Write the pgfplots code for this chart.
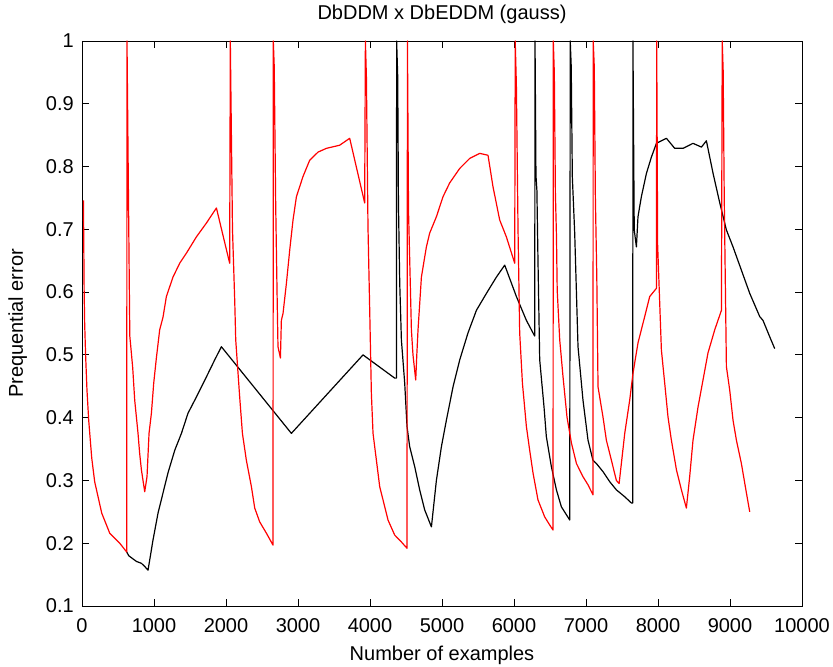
\documentclass[border=0pt]{standalone}
\usepackage{pgfplots}
\pgfplotsset{compat=1.18}
\usepackage{fontspec}
\setmainfont{Liberation Sans}
\begin{document}
\begin{tikzpicture}
\fontsize{20bp}{24bp}\selectfont
\begin{axis}[
  scale only axis,
  width=720bp, height=565bp,
  xmin=0, xmax=10000, ymin=0.1, ymax=1,
  xtick={0,1000,2000,3000,4000,5000,6000,7000,8000,9000,10000},
  xticklabels={0,1000,2000,3000,4000,5000,6000,7000,8000,9000,10000},
  ytick={0.1,0.2,0.3,0.4,0.5,0.6,0.7,0.8,0.9,1},
  yticklabels={0.1,0.2,0.3,0.4,0.5,0.6,0.7,0.8,0.9,1},
  tick align=inside,
  xtick pos=both, ytick pos=both,
  xticklabel pos=lower, yticklabel pos=left,
  major tick length=7bp,
  tick style={black, line width=0.9bp},
  axis line style={black, line width=0.9bp},
  xticklabel style={anchor=base, yshift=-26bp, font=\fontsize{20bp}{24bp}\selectfont},
  yticklabel style={anchor=east, inner sep=0pt, xshift=-8bp, font=\fontsize{20bp}{24bp}\selectfont},
  title={DbDDM x DbEDDM (gauss)},
  title style={at={(axis description cs:0.5,1.0283)}, anchor=base, font=\fontsize{20bp}{24bp}\selectfont},
  xlabel={Number of examples},
  xlabel style={at={(axis description cs:0.5,-0.0956)}, anchor=base, font=\fontsize{20bp}{24bp}\selectfont},
  ylabel={Prequential error},
  ylabel style={at={(axis description cs:-0.082,0.5)}, anchor=base, font=\fontsize{20bp}{24bp}\selectfont},
]
\coordinate (ll) at (rel axis cs:0,0);
\addplot[black, line width=1.2bp, line join=round] coordinates {
(621,0.186) (650,0.180) (756,0.171) (825,0.168) (871,0.163) (917,0.157)
(986,0.205) (1056,0.248) (1125,0.28) (1194,0.312) (1288,0.348) (1381,0.375)
(1472,0.407) (1589,0.433) (1728,0.465) (1843,0.492) (1936,0.513)
(2908,0.375) (3903,0.50) (4343,0.463) (4367,0.463)
(4370,1.0) (4385,0.943) (4395,0.742) (4413,0.614) (4436,0.524) (4482,0.455)
(4514,0.386) (4551,0.354) (4621,0.322) (4690,0.285) (4760,0.253) (4853,0.226)
(4922,0.30) (4992,0.354) (5061,0.396) (5153,0.449) (5246,0.492) (5361,0.535)
(5478,0.571) (5617,0.598) (5756,0.624) (5871,0.643) (6033,0.593) (6172,0.555)
(6264,0.535) (6288,0.53)
(6292,1.0) (6305,0.786) (6318,0.762) (6333,0.651) (6357,0.492) (6417,0.417)
(6449,0.37) (6519,0.322) (6589,0.285) (6658,0.258) (6774,0.237)
(6781,1.0) (6795,0.959) (6810,0.784) (6843,0.694) (6889,0.513) (6958,0.428)
(7028,0.364) (7097,0.332) (7144,0.327) (7236,0.314) (7329,0.298) (7422,0.285)
(7538,0.274) (7631,0.264) (7649,0.264)
(7652,1.0) (7660,0.863) (7670,0.699) (7700,0.672) (7722,0.72) (7769,0.752)
(7839,0.789) (7908,0.815) (7978,0.837) (8117,0.845) (8232,0.829) (8347,0.829)
(8486,0.837) (8603,0.831) (8672,0.841) (8765,0.789) (8858,0.742) (8950,0.699)
(9042,0.672) (9158,0.635) (9274,0.598) (9413,0.561) (9458,0.555) (9551,0.529)
(9621,0.51)
};
\addplot[red, line width=1.2bp, line join=round] coordinates {
(20,0.746) (30,0.60) (37,0.55) (50,0.50) (69,0.444) (93,0.396) (135,0.336)
(176,0.298) (274,0.248) (385,0.216) (524,0.200) (621,0.186)
(625,1.0) (640,0.818) (655,0.635) (664,0.53) (704,0.48) (732,0.428) (778,0.375)
(801,0.343) (825,0.317) (871,0.282) (903,0.306) (931,0.375) (964,0.407)
(996,0.455) (1033,0.495) (1079,0.54) (1125,0.56) (1172,0.593) (1264,0.624)
(1357,0.646) (1450,0.662) (1589,0.688) (1728,0.71) (1867,0.734) (2051,0.646)
(2060,1.0) (2075,0.85) (2090,0.70) (2121,0.587) (2135,0.524) (2190,0.433)
(2228,0.375) (2283,0.332) (2353,0.29) (2399,0.256) (2468,0.234) (2561,0.216)
(2653,0.197)
(2657,1.0) (2670,0.959) (2690,0.74) (2710,0.593) (2722,0.513) (2756,0.495)
(2769,0.555) (2792,0.566) (2839,0.614) (2885,0.667) (2931,0.715) (2978,0.752)
(3069,0.784) (3162,0.81) (3278,0.823) (3394,0.829) (3579,0.834) (3718,0.845)
(3926,0.742)
(3936,1.0) (3950,0.943) (3972,0.704) (3996,0.571) (4019,0.439) (4042,0.375)
(4089,0.332) (4135,0.29) (4181,0.269) (4250,0.237) (4343,0.213) (4436,0.202)
(4514,0.192)
(4520,1.0) (4535,0.73) (4575,0.54) (4597,0.50) (4635,0.46) (4650,0.50)
(4667,0.54) (4714,0.624) (4783,0.672) (4829,0.694) (4922,0.72) (5014,0.752)
(5107,0.774) (5246,0.797) (5385,0.813) (5524,0.821) (5639,0.818) (5708,0.768)
(5801,0.715) (5894,0.688) (6010,0.646)
(6017,1.0) (6033,0.93) (6056,0.699) (6079,0.535) (6117,0.455) (6172,0.386)
(6218,0.348) (6264,0.312) (6333,0.269) (6426,0.242) (6496,0.229) (6542,0.221)
(6546,1.0) (6560,0.949) (6575,0.757) (6590,0.688) (6600,0.603) (6635,0.524)
(6681,0.465) (6736,0.401) (6797,0.36) (6867,0.327) (6958,0.306) (7028,0.293)
(7097,0.277)
(7100,1.0) (7115,0.959) (7130,0.752) (7150,0.624) (7167,0.449) (7236,0.401)
(7283,0.364) (7353,0.332) (7422,0.30) (7460,0.295) (7538,0.375) (7607,0.428)
(7653,0.471) (7722,0.519) (7815,0.561) (7885,0.593) (7978,0.606)
(7982,1.0) (7995,0.675) (8047,0.508) (8093,0.455) (8139,0.401) (8186,0.364)
(8256,0.317) (8325,0.285) (8394,0.256) (8440,0.306) (8486,0.364) (8556,0.417)
(8625,0.46) (8694,0.503) (8788,0.54) (8881,0.571)
(8892,1.0) (8905,0.953) (8920,0.75) (8950,0.481) (8996,0.444) (9042,0.396)
(9089,0.364) (9158,0.327) (9228,0.28) (9274,0.25)
};
\end{axis}
\pgfresetboundingbox
\path ([shift={(-82bp,-61bp)}]ll) rectangle ++(833bp,667bp);
\end{tikzpicture}
\end{document}
